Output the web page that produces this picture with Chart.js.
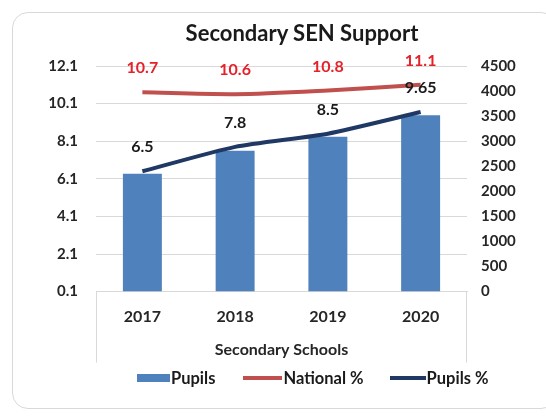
<!DOCTYPE html>
<html>
<head>
<meta charset="utf-8">
<script src="https://cdn.jsdelivr.net/npm/chart.js@4.4.1/dist/chart.umd.min.js"></script>
<style>
  html, body { margin: 0; padding: 0; background: #fff; }
  #wrap { position: relative; width: 546px; height: 419px; overflow: hidden; font-family: Lato, sans-serif; }
  #frame { position: absolute; left: 12px; top: 12px; width: 545px; height: 397px; border: 1px solid #d9d9d9; border-radius: 16px; box-sizing: border-box; }
  #chart { position: absolute; left: 0; top: 0; }
  #title { position: absolute; left: 102px; width: 400px; top: 19px; text-align: center; font-weight: bold; font-size: 22px; color: #1a1a1a; }
  #legend { position: absolute; left: 137px; top: 369px; display: flex; align-items: center; font-weight: bold; font-size: 16.5px; color: #1a1a1a; line-height: 18px; }
  #legend .item { display: flex; align-items: center; }
  #legend .sw { display: inline-block; margin-right: 1px; }
</style>
</head>
<body>
<div id="wrap">
  <div id="frame"></div>
  <canvas id="chart" width="546" height="419"></canvas>
  <div id="title">Secondary SEN Support</div>
  <div id="legend"></div>
</div>
<script>
const years = ['2017', '2018', '2019', '2020'];
const pupils = [2350, 2810, 3090, 3520];
const nationalPct = [10.7, 10.6, 10.8, 11.1];
const pupilsPct = [6.5, 7.8, 8.5, 9.65];

const BLUE = '#4f81bd';
const RED = '#c0504d';
const NAVY = '#1f3864';
const GRID = '#d9d9d9';

Chart.defaults.font.family = 'Lato, sans-serif';
Chart.defaults.font.weight = 'bold';
Chart.defaults.color = '#262626';

// value labels above the line points
const pointLabels = {
  id: 'pointLabels',
  afterDatasetsDraw(chart) {
    const ctx = chart.ctx;
    chart.data.datasets.forEach((ds, i) => {
      if (!ds.labelColor) return;
      const meta = chart.getDatasetMeta(i);
      ctx.save();
      ctx.font = 'bold 16px Lato, sans-serif';
      ctx.fillStyle = ds.labelColor;
      ctx.textAlign = 'center';
      ctx.textBaseline = 'middle';
      meta.data.forEach((pt, j) => {
        ctx.fillText(String(ds.data[j]), pt.x, pt.y - 24);
      });
      ctx.restore();
    });
  }
};

// light frame lines around the category axis area
const axisFrame = {
  id: 'axisFrame',
  afterDraw(chart) {
    const {ctx, chartArea} = chart;
    ctx.save();
    ctx.strokeStyle = GRID;
    ctx.lineWidth = 1;
    ctx.beginPath();
    ctx.moveTo(Math.round(chartArea.left) + 0.5, chartArea.bottom);
    ctx.lineTo(Math.round(chartArea.left) + 0.5, chartArea.bottom + 71);
    ctx.moveTo(Math.round(chartArea.right) - 0.5, chartArea.bottom);
    ctx.lineTo(Math.round(chartArea.right) - 0.5, chartArea.bottom + 71);
    ctx.stroke();
    ctx.restore();
  }
};

const data = {
  labels: years,
  datasets: [
    {
      type: 'line',
      label: 'National %',
      data: nationalPct,
      yAxisID: 'y',
      borderColor: RED,
      borderWidth: 4,
      pointRadius: 0,
      tension: 0.3,
      order: 1,
      labelColor: '#e5212a'
    },
    {
      type: 'line',
      label: 'Pupils %',
      data: pupilsPct,
      yAxisID: 'y',
      borderColor: NAVY,
      borderWidth: 4,
      pointRadius: 0,
      tension: 0.2,
      order: 2,
      labelColor: '#1a1a1a'
    },
    {
      type: 'bar',
      label: 'Pupils',
      data: pupils,
      yAxisID: 'y1',
      backgroundColor: BLUE,
      barPercentage: 0.42,
      categoryPercentage: 1,
      order: 3
    }
  ]
};

const config = {
  type: 'bar',
  data: data,
  plugins: [pointLabels, axisFrame],
  options: {
    responsive: false,
    animation: false,
    layout: { padding: { top: 66, bottom: 60, left: 0, right: 0 } },
    plugins: {
      legend: { display: false },
      title: { display: false },
      tooltip: { enabled: false }
    },
    scales: {
      x: {
        grid: { display: false, drawTicks: false },
        border: { display: true, color: GRID, width: 1 },
        ticks: { padding: 16, font: { size: 16, weight: 'bold' }, color: '#262626' },
        title: {
          display: true,
          text: 'Secondary Schools',
          font: { size: 16, weight: 'bold' },
          color: '#262626',
          padding: { top: -3, bottom: 0 }
        }
      },
      y: {
        position: 'left',
        min: 0.1,
        max: 12.1,
        grid: { color: GRID, drawTicks: false },
        border: { display: false },
        ticks: {
          stepSize: 2,
          padding: 18,
          font: { size: 15, weight: 'bold' },
          callback: v => Number(v).toFixed(1)
        },
        afterFit(scale) { scale.width = 96; }
      },
      y1: {
        position: 'right',
        min: 0,
        max: 4500,
        grid: { display: false, drawTicks: false },
        border: { display: false },
        ticks: {
          stepSize: 500,
          padding: 14,
          font: { size: 15, weight: 'bold' },
          callback: v => String(v)
        },
        afterFit(scale) { scale.width = 79; }
      }
    }
  }
};

new Chart(document.getElementById('chart'), config);

// legend
const legendItems = [
  { text: 'Pupils', color: BLUE, w: 33, h: 8, gap: 28 },
  { text: 'National %', color: RED, w: 39, h: 4, gap: 26 },
  { text: 'Pupils %', color: NAVY, w: 36, h: 4, gap: 0 }
];
const legendEl = document.getElementById('legend');
legendItems.forEach(it => {
  const item = document.createElement('span');
  item.className = 'item';
  item.style.marginRight = it.gap + 'px';
  const sw = document.createElement('span');
  sw.className = 'sw';
  sw.style.width = it.w + 'px';
  sw.style.height = it.h + 'px';
  sw.style.background = it.color;
  const tx = document.createElement('span');
  tx.textContent = it.text;
  item.appendChild(sw);
  item.appendChild(tx);
  legendEl.appendChild(item);
});
</script>
</body>
</html>
